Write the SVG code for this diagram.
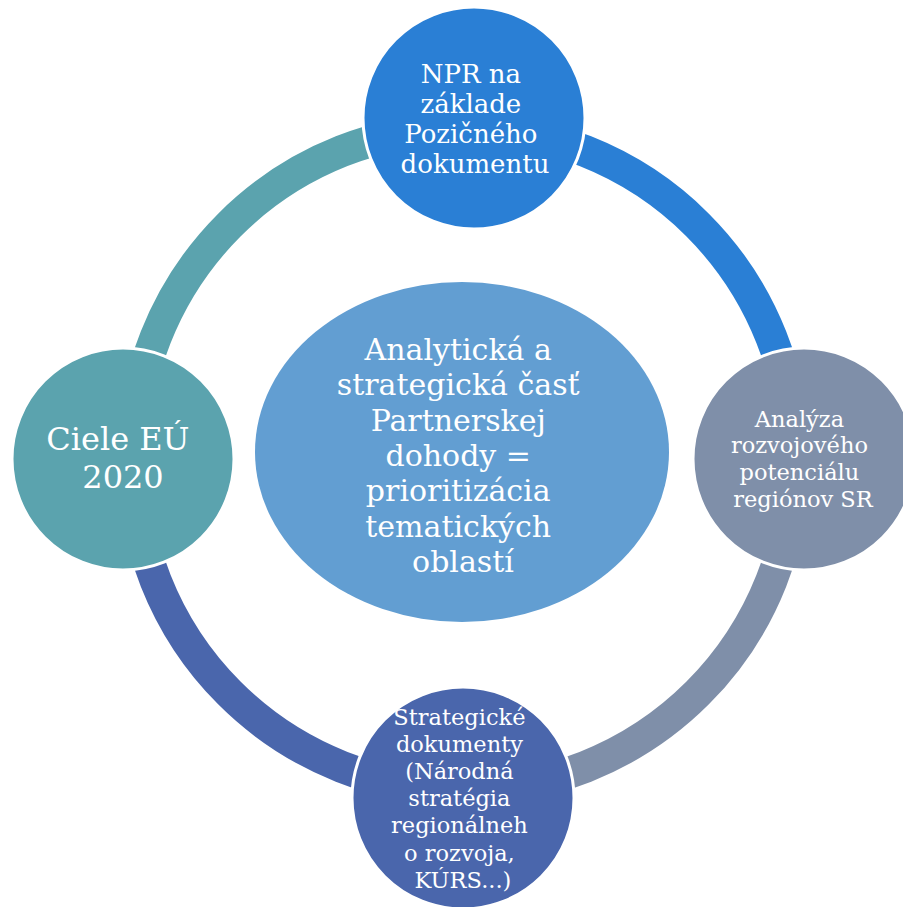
<svg xmlns="http://www.w3.org/2000/svg" width="903" height="907" viewBox="0 0 903 907">
  <style>
    .arc { fill: none; stroke-width: 32; }
    .node { stroke: #ffffff; stroke-width: 3; }
    .lbl { fill: #ffffff; font-family: "DejaVu Serif", "Liberation Serif", serif; text-anchor: middle; }
  </style>
  <rect width="903" height="907" fill="#ffffff"/>
  <g id="connectors">
    <path class="arc" stroke="#5BA3AE" d="M132.5,459 A331,331 0 0 1 463.5,128"/>
    <path class="arc" stroke="#2A7FD5" d="M463.5,128 A331,331 0 0 1 794.5,459"/>
    <path class="arc" stroke="#7F8FA9" d="M794.5,459 A331,331 0 0 1 463.5,790"/>
    <path class="arc" stroke="#4A66AC" d="M463.5,790 A331,331 0 0 1 132.5,459"/>
  </g>
  <g id="center">
    <ellipse cx="462" cy="452" rx="207" ry="170" fill="#629ED2"/>
    <text class="lbl" font-size="30">
      <tspan x="463" y="360">Analytická a</tspan>
      <tspan x="463" y="395.3">strategická časť</tspan>
      <tspan x="463" y="430.6">Partnerskej</tspan>
      <tspan x="463" y="465.9">dohody =</tspan>
      <tspan x="463" y="501.2">prioritizácia</tspan>
      <tspan x="463" y="536.5">tematických</tspan>
      <tspan x="463" y="571.8">oblastí</tspan>
    </text>
  </g>
  <g id="node-top">
    <circle class="node" cx="474" cy="118" r="111" fill="#2A7FD5"/>
    <text class="lbl" font-size="26">
      <tspan x="475" y="83">NPR na</tspan>
      <tspan x="475" y="113">základe</tspan>
      <tspan x="475" y="143">Pozičného</tspan>
      <tspan x="475" y="173">dokumentu</tspan>
    </text>
  </g>
  <g id="node-right">
    <circle class="node" cx="804" cy="459" r="111" fill="#7F8FA9"/>
    <text class="lbl" font-size="22.5">
      <tspan x="803" y="426.5">Analýza</tspan>
      <tspan x="803" y="453.2">rozvojového</tspan>
      <tspan x="803" y="479.9">potenciálu</tspan>
      <tspan x="803" y="506.6">regiónov SR</tspan>
    </text>
  </g>
  <g id="node-bottom">
    <circle class="node" cx="463" cy="798" r="111" fill="#4A66AC"/>
    <text class="lbl" font-size="22.5">
      <tspan x="463" y="725">Strategické</tspan>
      <tspan x="463" y="752.1">dokumenty</tspan>
      <tspan x="463" y="779.2">(Národná</tspan>
      <tspan x="463" y="806.3">stratégia</tspan>
      <tspan x="463" y="833.4">regionálneh</tspan>
      <tspan x="463" y="860.5">o rozvoja,</tspan>
      <tspan x="463" y="887.6">KÚRS...)</tspan>
    </text>
  </g>
  <g id="node-left">
    <circle class="node" cx="123" cy="459" r="111" fill="#5BA3AE"/>
    <text class="lbl" font-size="32">
      <tspan x="123" y="450">Ciele EÚ</tspan>
      <tspan x="123" y="488">2020</tspan>
    </text>
  </g>
</svg>
